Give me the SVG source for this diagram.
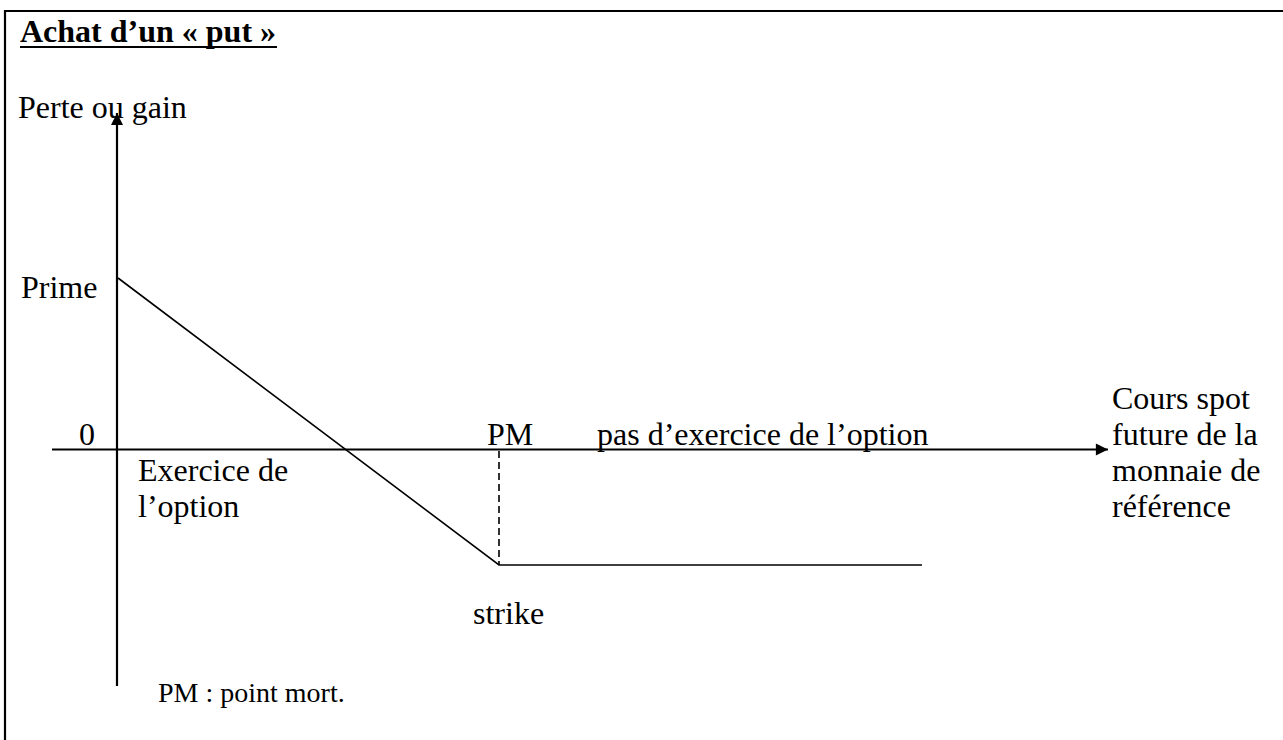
<svg xmlns="http://www.w3.org/2000/svg" width="1283" height="740" viewBox="0 0 1283 740">
  <style>
    .t { font-family: "Liberation Serif", "Times New Roman", serif; font-size: 32px; fill: #000; }
    .title { font-weight: bold; }
    .small { font-size: 28px; }
    .ax { stroke: #000; stroke-width: 2.2; fill: none; }
    .ln { stroke: #000; stroke-width: 1.6; fill: none; }
    .dash { stroke: #000; stroke-width: 1.6; stroke-dasharray: 7 4; fill: none; }
  </style>
  <defs>
    <marker id="arrow" viewBox="0 0 10 10" refX="10" refY="5" markerWidth="7" markerHeight="5.5" markerUnits="strokeWidth" orient="auto">
      <path d="M0,0 L10,5 L0,10 Z" fill="#000"/>
    </marker>
  </defs>
  <rect width="1283" height="740" fill="#fff"/>

  <!-- frame: top and left rules -->
  <g id="frame">
    <line x1="4" y1="11" x2="1283" y2="11" stroke="#000" stroke-width="2.2"/>
    <line x1="5" y1="10" x2="5" y2="740" stroke="#000" stroke-width="2.2"/>
  </g>

  <g id="title">
    <text class="t title" x="20" y="42">Achat d’un « put »</text>
    <line x1="20" y1="47" x2="277" y2="47" stroke="#000" stroke-width="2"/>
  </g>

  <!-- axes and payoff curve -->
  <g id="connectors">
    <line class="ax" x1="117" y1="686" x2="117" y2="113" marker-end="url(#arrow)"/>
    <line class="ax" x1="52" y1="449.5" x2="1108" y2="449.5" marker-end="url(#arrow)"/>
    <polyline class="ln" points="118,278 499,565 922,565"/>
    <line class="dash" x1="499" y1="451" x2="499" y2="565"/>
  </g>

  <g id="y-label"><text class="t" x="18" y="118">Perte ou gain</text></g>
  <g id="prime"><text class="t" x="21" y="298">Prime</text></g>
  <g id="zero"><text class="t" x="79" y="445">0</text></g>
  <g id="pm"><text class="t" x="487" y="445">PM</text></g>
  <g id="no-exercise"><text class="t" x="597" y="445">pas d’exercice de l’option</text></g>
  <g id="exercise">
    <text class="t" x="138" y="481">Exercice de</text>
    <text class="t" x="138" y="517">l’option</text>
  </g>
  <g id="x-label">
    <text class="t" x="1112" y="409">Cours spot</text>
    <text class="t" x="1112" y="445">future de la</text>
    <text class="t" x="1112" y="481">monnaie de</text>
    <text class="t" x="1112" y="517">référence</text>
  </g>
  <g id="strike"><text class="t" x="473" y="624">strike</text></g>
  <g id="note"><text class="t small" x="158" y="702">PM : point mort.</text></g>
</svg>
